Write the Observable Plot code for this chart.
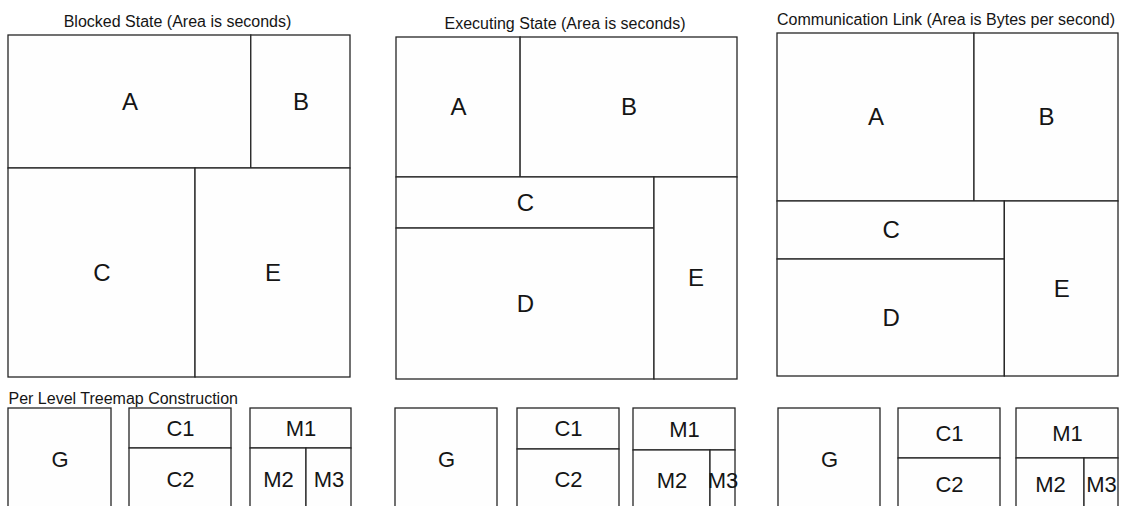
<!DOCTYPE html>
<html>
<head>
<meta charset="utf-8">
<script src="https://cdn.jsdelivr.net/npm/d3@7"></script>
<script src="https://cdn.jsdelivr.net/npm/@observablehq/plot@0.6"></script>
<style>
  body { margin: 0; background: #fff; }
  svg { display: block; }
</style>
</head>
<body>
<div id="chart"></div>
<script>
// ---- data ----
const panelTitles = [
  "Blocked State (Area is seconds)",
  "Executing State (Area is seconds)",
  "Communication Link (Area is Bytes per second)"
];
const constructionTitle = "Per Level Treemap Construction";

const blockedStates = ["A", "B", "C", "E"];
const blockedSeconds = [32.3, 13.2, 39.1, 32.4];

const executingStates = ["A", "B", "C", "D", "E"];
const executingSeconds = [17.4, 30.4, 13.2, 39.0, 16.8];

const linkNames = ["A", "B", "C", "D", "E"];
const linkBytesPerSecond = [33.1, 24.2, 13.2, 26.6, 19.9];

const levelG = ["G"];
const levelC = ["C1", "C2"];
const levelM = ["M1", "M2", "M3"];
const levelGValues = [[1], [1], [1]];
const levelCValues = [[40, 62], [41, 61], [50, 52]];
const levelMValues = [[40.4, 34.7, 27.9], [42.8, 46.2, 15.0], [51.0, 35.4, 17.7]];

// ---- layout (frames) ----
const bigFrames = [
  {x: 8, y: 35, w: 342, h: 342},
  {x: 396, y: 37, w: 341, h: 342},
  {x: 777, y: 33, w: 341, h: 343}
];
const smallTop = 408, smallH = 102;
const smallX = [
  {g: [8, 103], c: [129, 102], m: [250, 101]},
  {g: [395, 102], c: [517, 102], m: [633, 102]},
  {g: [778, 102], c: [898, 102], m: [1016, 102]}
];

const leaf = (names, vals, i) => ({name: names[i], value: vals[i]});
const rects = [];
function layout(tree, x, y, w, h, kind) {
  const root = d3.hierarchy(tree).sum(d => d.children ? 0 : d.value);
  d3.treemap()
    .size([w, h])
    .tile((node, x0, y0, x1, y1) =>
      (node.depth % 2 ? d3.treemapDice : d3.treemapSlice)(node, x0, y0, x1, y1))(root);
  for (const l of root.leaves()) {
    rects.push({name: l.data.name, kind,
      x1: x + l.x0, x2: x + l.x1, y1: y + l.y0, y2: y + l.y1});
  }
}

// Big treemaps
{
  const b = (i) => leaf(blockedStates, blockedSeconds, i);
  layout({children: [{children: [b(0), b(1)]}, {children: [b(2), b(3)]}]},
    bigFrames[0].x, bigFrames[0].y, bigFrames[0].w, bigFrames[0].h, "big");
  const e = (i) => leaf(executingStates, executingSeconds, i);
  layout({children: [{children: [e(0), e(1)]}, {children: [{children: [e(2), e(3)]}, e(4)]}]},
    bigFrames[1].x, bigFrames[1].y, bigFrames[1].w, bigFrames[1].h, "big");
  const c = (i) => leaf(linkNames, linkBytesPerSecond, i);
  layout({children: [{children: [c(0), c(1)]}, {children: [{children: [c(2), c(3)]}, c(4)]}]},
    bigFrames[2].x, bigFrames[2].y, bigFrames[2].w, bigFrames[2].h, "big");
}
// Small construction treemaps
for (let p = 0; p < 3; p++) {
  const s = smallX[p];
  layout(leaf(levelG, levelGValues[p], 0), s.g[0], smallTop, s.g[1], smallH, "small");
  const cc = (i) => leaf(levelC, levelCValues[p], i);
  layout({children: [cc(0), cc(1)]}, s.c[0], smallTop, s.c[1], smallH, "small");
  const mm = (i) => leaf(levelM, levelMValues[p], i);
  layout({children: [mm(0), {children: [mm(1), mm(2)]}]}, s.m[0], smallTop, s.m[1], smallH, "small");
}

const titles = panelTitles.map((t, i) => ({text: t, x: bigFrames[i].x + bigFrames[i].w / 2 - 2, y: bigFrames[i].y - 9}));

const chart = Plot.plot({
  width: 1122,
  height: 506,
  margin: 0,
  x: {domain: [0, 1122], range: [0, 1122], axis: null},
  y: {domain: [0, 506], range: [0, 506], axis: null},
  style: {background: "#fff", fontFamily: "'Liberation Sans', Arial, sans-serif"},
  marks: [
    Plot.rect(rects, {x1: "x1", x2: "x2", y1: "y1", y2: "y2", fill: "#fefefe", stroke: "#262626", strokeWidth: 1.3}),
    Plot.text(rects.filter(d => d.kind === "big"), {
      x: d => (d.x1 + d.x2) / 2, y: d => (d.y1 + d.y2) / 2, text: "name",
      fontSize: 24, fill: "#151515", lineAnchor: "middle"
    }),
    Plot.text(rects.filter(d => d.kind === "small"), {
      x: d => (d.x1 + d.x2) / 2, y: d => (d.y1 + d.y2) / 2, text: "name",
      fontSize: 22, fill: "#151515", lineAnchor: "middle"
    }),
    Plot.text(titles, {x: "x", y: "y", text: "text", fontSize: 16, fill: "#151515", lineAnchor: "bottom"}),
    Plot.text([constructionTitle], {x: 8, y: 403, text: d => d, fontSize: 16, fill: "#151515", textAnchor: "start", lineAnchor: "bottom"})
  ]
});
document.getElementById("chart").appendChild(chart);
</script>
</body>
</html>
